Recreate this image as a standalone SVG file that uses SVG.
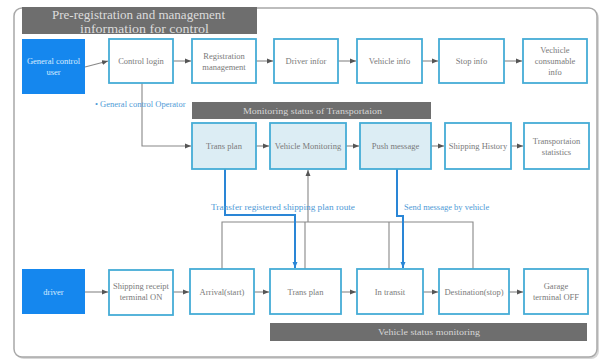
<svg xmlns="http://www.w3.org/2000/svg" width="602" height="361" viewBox="0 0 602 361">
<defs>
<marker id="ah" viewBox="0 0 6 6" refX="6" refY="3" markerWidth="6" markerHeight="6" markerUnits="userSpaceOnUse" orient="auto">
<path d="M0,0.5 L6,3 L0,5.5 Z" fill="#555"/>
</marker>
<marker id="ahb" viewBox="0 0 6 6" refX="6" refY="3" markerWidth="6" markerHeight="6" markerUnits="userSpaceOnUse" orient="auto">
<path d="M0,0.5 L6,3 L0,5.5 Z" fill="#2a86d6"/>
</marker>
</defs>
<style>
text{font-family:"Liberation Serif","DejaVu Serif",serif;}
.box{fill:#fff;stroke:#45acd6;stroke-width:1.8;}
.lt{fill:#dcedf4;stroke:#45acd6;stroke-width:1.8;}
.blue{fill:#1587ee;}
.bar{fill:#6e6e6e;}
.t{font-size:8.5px;fill:#7a7a7a;text-anchor:middle;}
.w{font-size:8.5px;fill:#d8ecff;text-anchor:middle;}
.bt{font-size:9px;fill:#d6d6d6;text-anchor:middle;}
.lbl{font-size:8.5px;fill:#4f9ad6;}
.c{fill:none;stroke:#888;stroke-width:1.1;}
.cb{fill:none;stroke:#2a86d6;stroke-width:2;}
</style>
<rect x="0" y="0" width="602" height="361" fill="#fff"/>
<rect x="16" y="10" width="583" height="349" rx="8" fill="#d8d8d8"/>
<rect x="14" y="8" width="583" height="349" rx="8" fill="#fff" stroke="#a8a8a8" stroke-width="1.5"/>

<g id="title">
<rect class="bar" x="22" y="7" width="235" height="27"/>
<text x="52" y="19" textLength="173" lengthAdjust="spacingAndGlyphs" style="font-size:11.5px;fill:#dcdcdc">Pre-registration and management</text>
<text x="80" y="33" textLength="129" lengthAdjust="spacingAndGlyphs" style="font-size:11.5px;fill:#dcdcdc">information for control</text>
</g>

<g id="connectors">
<path class="c" d="M85 67 L108 61" marker-end="url(#ah)"/>
<path class="c" d="M173 61 H191" marker-end="url(#ah)"/>
<path class="c" d="M256 61 H273" marker-end="url(#ah)"/>
<path class="c" d="M338 61 H356" marker-end="url(#ah)"/>
<path class="c" d="M422 61 H438" marker-end="url(#ah)"/>
<path class="c" d="M504 61 H522" marker-end="url(#ah)"/>
<path class="c" d="M142 83 V146 H191" marker-end="url(#ah)"/>
<path class="c" d="M256 146 H269" marker-end="url(#ah)"/>
<path class="c" d="M346 146 H359" marker-end="url(#ah)"/>
<path class="c" d="M431 146 H444" marker-end="url(#ah)"/>
<path class="c" d="M511 146 H523" marker-end="url(#ah)"/>
<path class="c" d="M85 292 H108" marker-end="url(#ah)"/>
<path class="c" d="M173 292 H189" marker-end="url(#ah)"/>
<path class="c" d="M254 292 H269" marker-end="url(#ah)"/>
<path class="c" d="M341 292 H356" marker-end="url(#ah)"/>
<path class="c" d="M423 292 H438" marker-end="url(#ah)"/>
<path class="c" d="M509 292 H523" marker-end="url(#ah)"/>
<path class="c" d="M222 269 V222 H473 V269"/>
<path class="c" d="M305 222 V269"/>
<path class="c" d="M389 222 V269"/>
<path class="c" d="M308 222 V170" marker-end="url(#ah)"/>
<path class="cb" d="M225 169 V215 H295 V268" marker-end="url(#ahb)"/>
<path class="cb" d="M397 169 V216 H403 V268" marker-end="url(#ahb)"/>
<text class="lbl" x="211" y="210" textLength="144" lengthAdjust="spacingAndGlyphs">Transfer registered shipping plan route</text>
<text class="lbl" x="404" y="210">Send message by vehicle</text>
<text class="lbl" x="95" y="107">• General control Operator</text>
</g>

<g id="gcu"><rect class="blue" x="22" y="39" width="63" height="55"/><text class="w" x="53.5" y="64">General control</text><text class="w" x="53.5" y="75">user</text></g>
<g id="control-login"><rect class="box" x="109" y="39" width="64" height="44"/><text class="t" x="141" y="64">Control login</text></g>
<g id="registration"><rect class="box" x="192" y="39" width="64" height="44"/><text class="t" x="224" y="59">Registration</text><text class="t" x="224" y="70">management</text></g>
<g id="driver-infor"><rect class="box" x="274" y="39" width="64" height="44"/><text class="t" x="306" y="64">Driver infor</text></g>
<g id="vehicle-info"><rect class="box" x="357" y="39" width="65" height="44"/><text class="t" x="389.5" y="64">Vehicle info</text></g>
<g id="stop-info"><rect class="box" x="439" y="39" width="65" height="44"/><text class="t" x="471.5" y="64">Stop info</text></g>
<g id="consumable"><rect class="box" x="523" y="39" width="64" height="44"/><text class="t" x="555" y="53">Vechicle</text><text class="t" x="555" y="64">consumable</text><text class="t" x="555" y="75">info</text></g>

<g id="monitoring-bar"><rect class="bar" x="192" y="102" width="239" height="17"/><text class="bt" x="243" y="114" textLength="139" lengthAdjust="spacingAndGlyphs" style="text-anchor:start">Monitoring status of Transportaion</text></g>
<g id="trans-plan-top"><rect class="lt" x="192" y="123" width="64" height="46"/><text class="t" x="224" y="149">Trans plan</text></g>
<g id="vehicle-monitoring"><rect class="lt" x="270" y="123" width="76" height="46"/><text class="t" x="308" y="149">Vehicle Monitoring</text></g>
<g id="push-message"><rect class="lt" x="360" y="123" width="71" height="46"/><text class="t" x="395.5" y="149">Push message</text></g>
<g id="shipping-history"><rect class="box" x="445" y="123" width="66" height="46"/><text class="t" x="478" y="149">Shipping History</text></g>
<g id="statistics"><rect class="box" x="524" y="123" width="65" height="46"/><text class="t" x="556.5" y="144">Transportaion</text><text class="t" x="556.5" y="155">statistics</text></g>

<g id="driver"><rect class="blue" x="22" y="269" width="63" height="45"/><text class="w" x="53.5" y="295">driver</text></g>
<g id="shipping-receipt"><rect class="box" x="109" y="270" width="64" height="45"/><text class="t" x="141" y="289">Shipping receipt</text><text class="t" x="141" y="300">terminal ON</text></g>
<g id="arrival"><rect class="box" x="190" y="269" width="64" height="45"/><text class="t" x="222" y="295">Arrival(start)</text></g>
<g id="trans-plan-bottom"><rect class="box" x="270" y="269" width="71" height="45"/><text class="t" x="305.5" y="295">Trans  plan</text></g>
<g id="in-transit"><rect class="box" x="357" y="269" width="66" height="45"/><text class="t" x="390" y="295">In transit</text></g>
<g id="destination"><rect class="box" x="439" y="269" width="70" height="45"/><text class="t" x="474" y="295">Destination(stop)</text></g>
<g id="garage"><rect class="box" x="524" y="269" width="64" height="45"/><text class="t" x="556" y="289">Garage</text><text class="t" x="556" y="300">terminal OFF</text></g>
<g id="vehicle-status-bar"><rect class="bar" x="270" y="323" width="317" height="18"/><text class="bt" x="429" y="335" textLength="102" lengthAdjust="spacingAndGlyphs">Vehicle status monitoring</text></g>
</svg>
